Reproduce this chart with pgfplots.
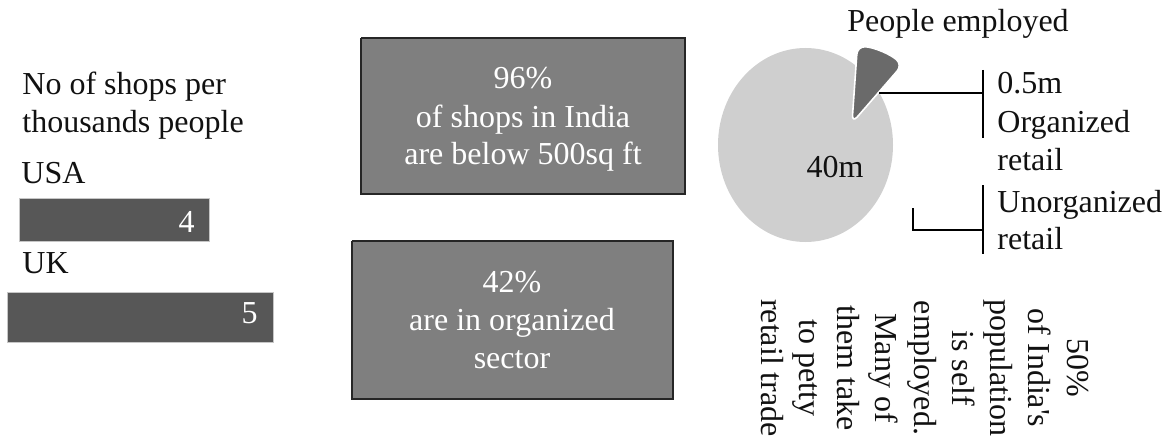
\documentclass[border=0pt]{standalone}
\usepackage{fontspec}
\setmainfont{Liberation Serif}
\usepackage{pgfplots}
\pgfplotsset{compat=1.18}
\definecolor{barc}{HTML}{575757}
\definecolor{boxc}{HTML}{7F7F7F}
\definecolor{piec}{HTML}{CFCFCF}
\definecolor{wedc}{HTML}{6A6A6A}
\definecolor{txt}{HTML}{111111}
\newcommand\f{\fontsize{16}{19}\selectfont}
\newcommand\sq{\XeTeXglyph\the\XeTeXcharglyph"0027\relax}
\tikzset{lbl/.style={inner sep=0pt, font=\f, text=txt},
         wlbl/.style={inner sep=0pt, font=\f, text=white}}
\begin{document}
\begin{tikzpicture}
\begin{axis}[width=584pt, height=220.5pt, scale only axis,
  xmin=0, xmax=1168, ymin=0, ymax=441, y dir=reverse,
  axis lines=none, clip=false]
\path (axis cs:0,0) rectangle (axis cs:1168,441);
% --- shops per thousand people (bars: left, right edges in px) ---
\addplot[fill=barc, draw=gray!45, line width=0.5pt] coordinates {(19,198) (209,198) (209,241) (19,241) (19,198)};
\addplot[fill=barc, draw=gray!45, line width=0.5pt] coordinates {(7,292) (273,292) (273,342) (7,342) (7,292)};
\node[lbl, anchor=base west] at (axis cs:22,95) {No of shops per};
\node[lbl, anchor=base west] at (axis cs:22,133) {thousands people};
\node[lbl, anchor=base west] at (axis cs:21,183) {USA};
\node[lbl, anchor=base west] at (axis cs:22,273) {UK};
\node[wlbl, anchor=base east] at (axis cs:195,232) {4};
\node[wlbl, anchor=base east] at (axis cs:258,323) {5};
% --- boxes ---
\addplot[fill=boxc, draw=black!85, line width=0.6pt] coordinates {(361,38) (685,38) (685,194) (361,194) (361,38)};
\addplot[fill=boxc, draw=black!85, line width=0.6pt] coordinates {(352,241) (673,241) (673,399) (352,399) (352,241)};
\node[wlbl, anchor=base] at (axis cs:523,89) {96\%};
\node[wlbl, anchor=base] at (axis cs:523,127) {of shops in India};
\node[wlbl, anchor=base] at (axis cs:523,165) {are below 500sq ft};
\node[wlbl, anchor=base] at (axis cs:512,292) {42\%};
\node[wlbl, anchor=base] at (axis cs:512,330) {are in organized};
\node[wlbl, anchor=base] at (axis cs:512,368) {sector};
% --- pie ---
\fill[piec] (axis cs:805.5,145) ellipse [x radius=43.75pt, y radius=48.5pt];
\filldraw[fill=wedc, draw=white, line width=0.8pt, rounded corners=4pt] (axis cs:852,123) -- ++(49:38.5pt) arc[start angle=49, end angle=86, radius=38.5pt] -- cycle;
\node[lbl, anchor=base] at (axis cs:835,177) {40m};
\node[lbl, anchor=base west] at (axis cs:847,32) {People employed};
% leader lines
\addplot[black, line width=0.7pt] coordinates {(879,93) (983,93)};
\addplot[black, line width=0.7pt] coordinates {(983,70) (983,138)};
\addplot[black, line width=0.7pt] coordinates {(913,208) (913,230) (983,230)};
\addplot[black, line width=0.7pt] coordinates {(983,185) (983,254)};
\node[lbl, anchor=base west] at (axis cs:997,94) {0.5m};
\node[lbl, anchor=base west] at (axis cs:997,133) {Organized};
\node[lbl, anchor=base west] at (axis cs:997,170) {retail};
\node[lbl, anchor=base west] at (axis cs:997,212) {Unorganized};
\node[lbl, anchor=base west] at (axis cs:997,249) {retail};
% rotated note
\node[lbl, anchor=base, rotate=-90] at (axis cs:1067,368) {50\%};
\node[lbl, anchor=base, rotate=-90] at (axis cs:1028.75,368) {of India\sq s};
\node[lbl, anchor=base, rotate=-90] at (axis cs:990.5,368) {population};
\node[lbl, anchor=base, rotate=-90] at (axis cs:952.25,368) {is self};
\node[lbl, anchor=base, rotate=-90] at (axis cs:914,368) {employed.};
\node[lbl, anchor=base, rotate=-90] at (axis cs:875.75,368) {Many of};
\node[lbl, anchor=base, rotate=-90] at (axis cs:837.5,368) {them take};
\node[lbl, anchor=base, rotate=-90] at (axis cs:799.25,368) {to petty};
\node[lbl, anchor=base, rotate=-90] at (axis cs:761,368) {retail trade};
\end{axis}
\end{tikzpicture}
\end{document}
